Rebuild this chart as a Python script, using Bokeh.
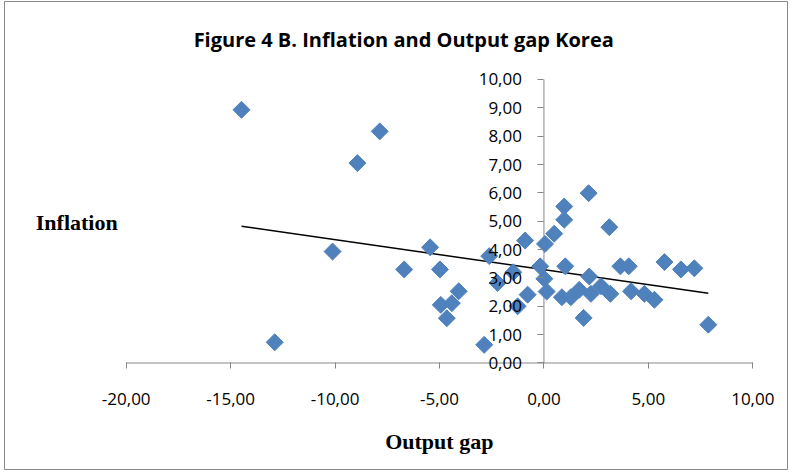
import numpy as np
from bokeh.plotting import figure
from bokeh.models import Range1d, FixedTicker, CustomJSTickFormatter, Label
from bokeh.embed import file_html
from bokeh.resources import INLINE

# Data (output gap, inflation)
output_gap = [-14.48, -12.89, -10.12, -8.93, -7.86, -6.69, -5.45, -4.98, -4.94, -4.65,
              -4.41, -4.08, -2.86, -2.62, -2.22, -1.47, -1.26, -0.90, -0.78, -0.18,
              0.02, 0.05, 0.13, 0.49, 0.86, 0.97, 0.97, 1.02, 1.29, 1.69,
              1.90, 2.14, 2.17, 2.25, 2.73, 3.13, 3.18, 3.66, 4.06, 4.17,
              4.81, 5.29, 5.77, 6.56, 7.20, 7.87]
inflation = [8.93, 0.73, 3.93, 7.05, 8.17, 3.30, 4.08, 3.30, 2.05, 1.58,
             2.11, 2.53, 0.64, 3.77, 2.82, 3.20, 2.00, 4.32, 2.41, 3.41,
             2.97, 4.20, 2.52, 4.56, 2.32, 5.52, 5.05, 3.41, 2.32, 2.58,
             1.59, 5.99, 3.05, 2.44, 2.71, 4.79, 2.44, 3.41, 3.41, 2.53,
             2.44, 2.23, 3.56, 3.30, 3.34, 1.35]
x_ticks = [-20, -15, -10, -5, 0, 5, 10]
y_ticks = [0, 1, 2, 3, 4, 5, 6, 7, 8, 9, 10]
title_text = "Figure 4 B. Inflation and  Output gap Korea"
x_title = "Output gap"
y_title = "Inflation"

# The frame fills the whole chart area; axes sit inside it at 0 (Excel style)
p = figure(width=790, height=472, output_backend="svg", toolbar_location=None,
           x_range=Range1d(-25.827, 11.661), y_range=Range1d(-3.757, 12.751),
           min_border_left=4, min_border_right=3, min_border_top=1, min_border_bottom=3)
p.outline_line_color = "#898989"
p.outline_line_width = 1
p.xgrid.visible = False
p.ygrid.visible = False
p.background_fill_color = "white"
p.border_fill_color = "white"

fmt = CustomJSTickFormatter(code="return tick.toFixed(2).replace('.', ',');")
axis_color = "#868686"
for ax, ticks in ((p.xaxis[0], x_ticks), (p.yaxis[0], y_ticks)):
    ax.ticker = FixedTicker(ticks=ticks)
    ax.formatter = fmt
    ax.fixed_location = 0
    ax.axis_line_color = None
    ax.major_tick_line_color = axis_color
    ax.major_tick_out = 6
    ax.major_tick_in = 0
    ax.minor_tick_line_color = None
    ax.major_label_text_font = "Open Sans"
    ax.major_label_text_font_size = "17px"
    ax.major_label_text_color = "black"
p.xaxis.major_label_standoff = 24
p.yaxis.major_label_standoff = 16

# axis lines limited to the tick span
p.segment(x0=[x_ticks[0], 0], y0=[0, y_ticks[0]], x1=[x_ticks[-1], 0], y1=[0, y_ticks[-1]],
          line_color=axis_color, line_width=1)

# Linear trend line fitted to the data
xs = np.array(output_gap)
ys = np.array(inflation)
slope, intercept = np.polyfit(xs, ys, 1)
tx = np.array([xs.min(), xs.max()])
p.line(tx, slope * tx + intercept, line_color="black", line_width=1.5)

p.scatter(output_gap, inflation, marker="square", angle=np.pi / 4, size=12,
          fill_color="#4F81BD", line_color="#4F81BD")

p.add_layout(Label(x=-6.59, y=11.42, text=title_text, text_align="center",
                   text_baseline="alphabetic", text_font="Open Sans",
                   text_font_style="bold", text_font_size="20px", text_color="black"))
p.add_layout(Label(x=-24.33, y=4.97, text=y_title, text_align="left",
                   text_baseline="alphabetic", text_font="Liberation Serif",
                   text_font_style="bold", text_font_size="22px", text_color="black"))
p.add_layout(Label(x=-5.01, y=-2.76, text=x_title, text_align="center",
                   text_baseline="alphabetic", text_font="Liberation Serif",
                   text_font_style="bold", text_font_size="22px", text_color="black"))

open("out.html", "w").write(file_html(p, INLINE))
